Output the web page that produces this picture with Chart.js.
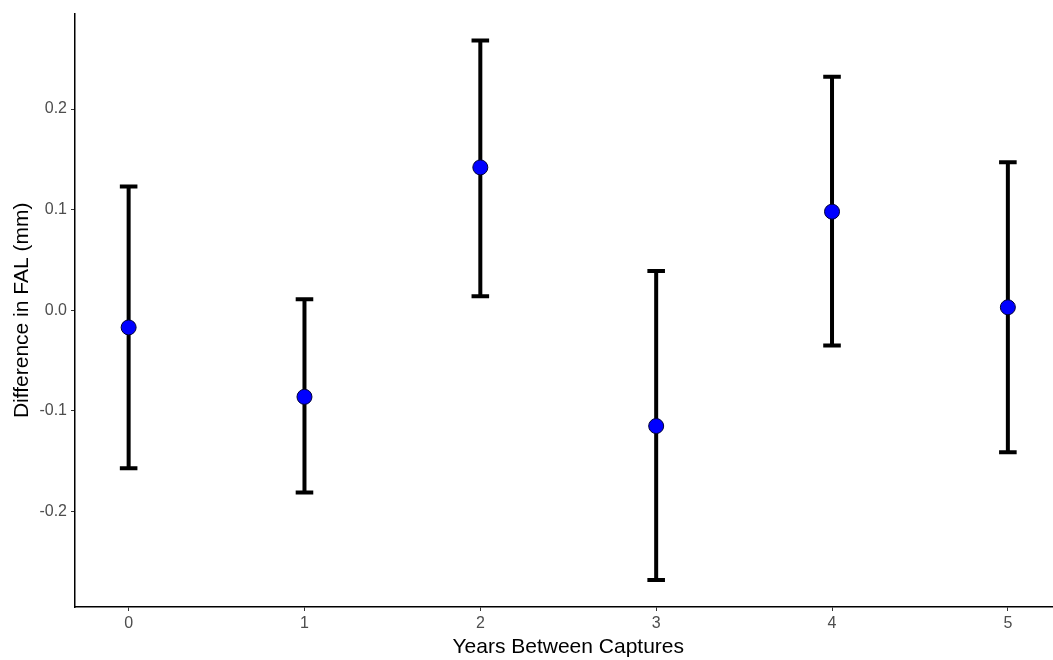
<!DOCTYPE html>
<html>
<head>
<meta charset="utf-8">
<script src="https://cdn.jsdelivr.net/npm/chart.js@4.4.1/dist/chart.umd.min.js"></script>
<style>
  html, body { margin: 0; padding: 0; background: #fff; overflow: hidden; }
  #wrap { width: 1070px; height: 660px; }
</style>
</head>
<body>
<div id="wrap"><canvas id="chart"></canvas></div>
<script>
// years between captures and the estimated difference (mean, lower, upper)
var years = [0, 1, 2, 3, 4, 5];
var meanDiff = [-0.017, -0.086, 0.142, -0.115, 0.098, 0.003];
var lowerCI = [-0.157, -0.181, 0.014, -0.268, -0.035, -0.141];
var upperCI = [0.123, 0.011, 0.268, 0.039, 0.232, 0.147];
var yTicks = [-0.2, -0.1, 0.0, 0.1, 0.2];

var points = years.map((yr, i) => {
  return { x: yr, y: meanDiff[i] };
});

// draw the error bars behind the points
var errorBars = {
  id: 'errorBars',
  beforeDatasetsDraw(chart) {
    var ctx = chart.ctx;
    var xs = chart.scales.x;
    var ys = chart.scales.y;
    ctx.save();
    ctx.strokeStyle = '#000';
    ctx.lineWidth = 4;
    ctx.lineCap = 'butt';
    years.forEach((yr, i) => {
      var px = xs.getPixelForValue(yr);
      var left = xs.getPixelForValue(yr - 0.05);
      var right = xs.getPixelForValue(yr + 0.05);
      var top = ys.getPixelForValue(upperCI[i]);
      var bot = ys.getPixelForValue(lowerCI[i]);
      ctx.beginPath();
      ctx.moveTo(px, top);
      ctx.lineTo(px, bot);
      ctx.moveTo(left, top);
      ctx.lineTo(right, top);
      ctx.moveTo(left, bot);
      ctx.lineTo(right, bot);
      ctx.stroke();
    });
    ctx.restore();
  }
};

var mychart = new Chart(document.getElementById('chart'), {
  type: 'scatter',
  data: {
    datasets: [{
      data: points,
      pointRadius: 7.5,
      pointHoverRadius: 7.5,
      pointBackgroundColor: '#0000ff',
      pointBorderColor: '#000033',
      pointBorderWidth: 1
    }]
  },
  options: {
    responsive: true,
    maintainAspectRatio: false,
    animation: false,
    layout: { padding: { top: 8, right: 0, left: 0, bottom: 0 } },
    plugins: {
      legend: { display: false },
      tooltip: { enabled: false }
    },
    scales: {
      x: {
        type: 'linear',
        min: -0.305,
        max: 5.305,
        afterBuildTicks: (axis) => { axis.ticks = years.map(v => ({ value: v })); },
        afterFit: (axis) => { axis.height = 53; },
        grid: { drawOnChartArea: false, drawTicks: true, tickLength: 4, color: '#333' },
        border: { display: true, color: '#000', width: 1.5 },
        ticks: {
          padding: 3,
          color: '#4d4d4d',
          font: { family: 'Liberation Sans', size: 16 },
          callback: (v) => String(v)
        },
        title: {
          display: true,
          text: 'Years Between Captures',
          color: '#000',
          font: { family: 'Liberation Sans', size: 21 },
          padding: { top: 0, bottom: 0 }
        }
      },
      y: {
        min: -0.2948,
        max: 0.2948,
        afterBuildTicks: (axis) => { axis.ticks = yTicks.map(v => ({ value: v })); },
        afterFit: (axis) => { axis.width = 75; },
        grid: { drawOnChartArea: false, drawTicks: true, tickLength: 4, color: '#333' },
        border: { display: true, color: '#000', width: 1.5 },
        ticks: {
          padding: 4,
          color: '#4d4d4d',
          font: { family: 'Liberation Sans', size: 16 },
          callback: (v) => v.toFixed(1)
        },
        title: {
          display: true,
          text: 'Difference in FAL (mm)',
          color: '#000',
          font: { family: 'Liberation Sans', size: 21 },
          padding: { top: 10, bottom: 0 }
        }
      }
    }
  },
  plugins: [errorBars]
});
</script>
</body>
</html>
